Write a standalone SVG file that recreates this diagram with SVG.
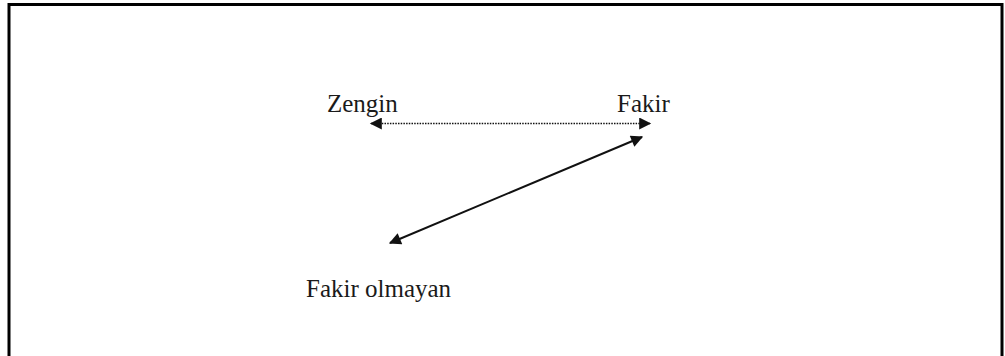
<svg xmlns="http://www.w3.org/2000/svg" width="1005" height="356" viewBox="0 0 1005 356">
<style>
.lbl{font-family:'Liberation Serif','DejaVu Serif',serif;font-size:25px;fill:#1a1a1a}
.ln{stroke:#111;fill:none}
</style>
<defs>
<marker id="ah" viewBox="0 0 10 10" refX="9" refY="5" markerWidth="14" markerHeight="12" markerUnits="userSpaceOnUse" orient="auto-start-reverse">
<path d="M0,0 L10,5 L0,10 z" fill="#111"/>
</marker>
</defs>
<rect x="0" y="0" width="1005" height="356" fill="#fff"/>
<rect x="9" y="4.5" width="993" height="360" fill="none" stroke="#000" stroke-width="3"/>
<g id="zengin"><text class="lbl" x="327" y="112">Zengin</text></g>
<g id="fakir"><text class="lbl" x="617" y="112">Fakir</text></g>
<g id="fakir-olmayan"><text class="lbl" x="306" y="297">Fakir olmayan</text></g>
<g id="connectors">
<line class="ln" x1="371" y1="123.5" x2="650" y2="123.5" stroke-width="1.6" stroke-dasharray="1.5 1.2" marker-start="url(#ah)" marker-end="url(#ah)"/>
<line class="ln" x1="390" y1="243" x2="642" y2="137" stroke-width="2" marker-start="url(#ah)" marker-end="url(#ah)"/>
</g>
</svg>
